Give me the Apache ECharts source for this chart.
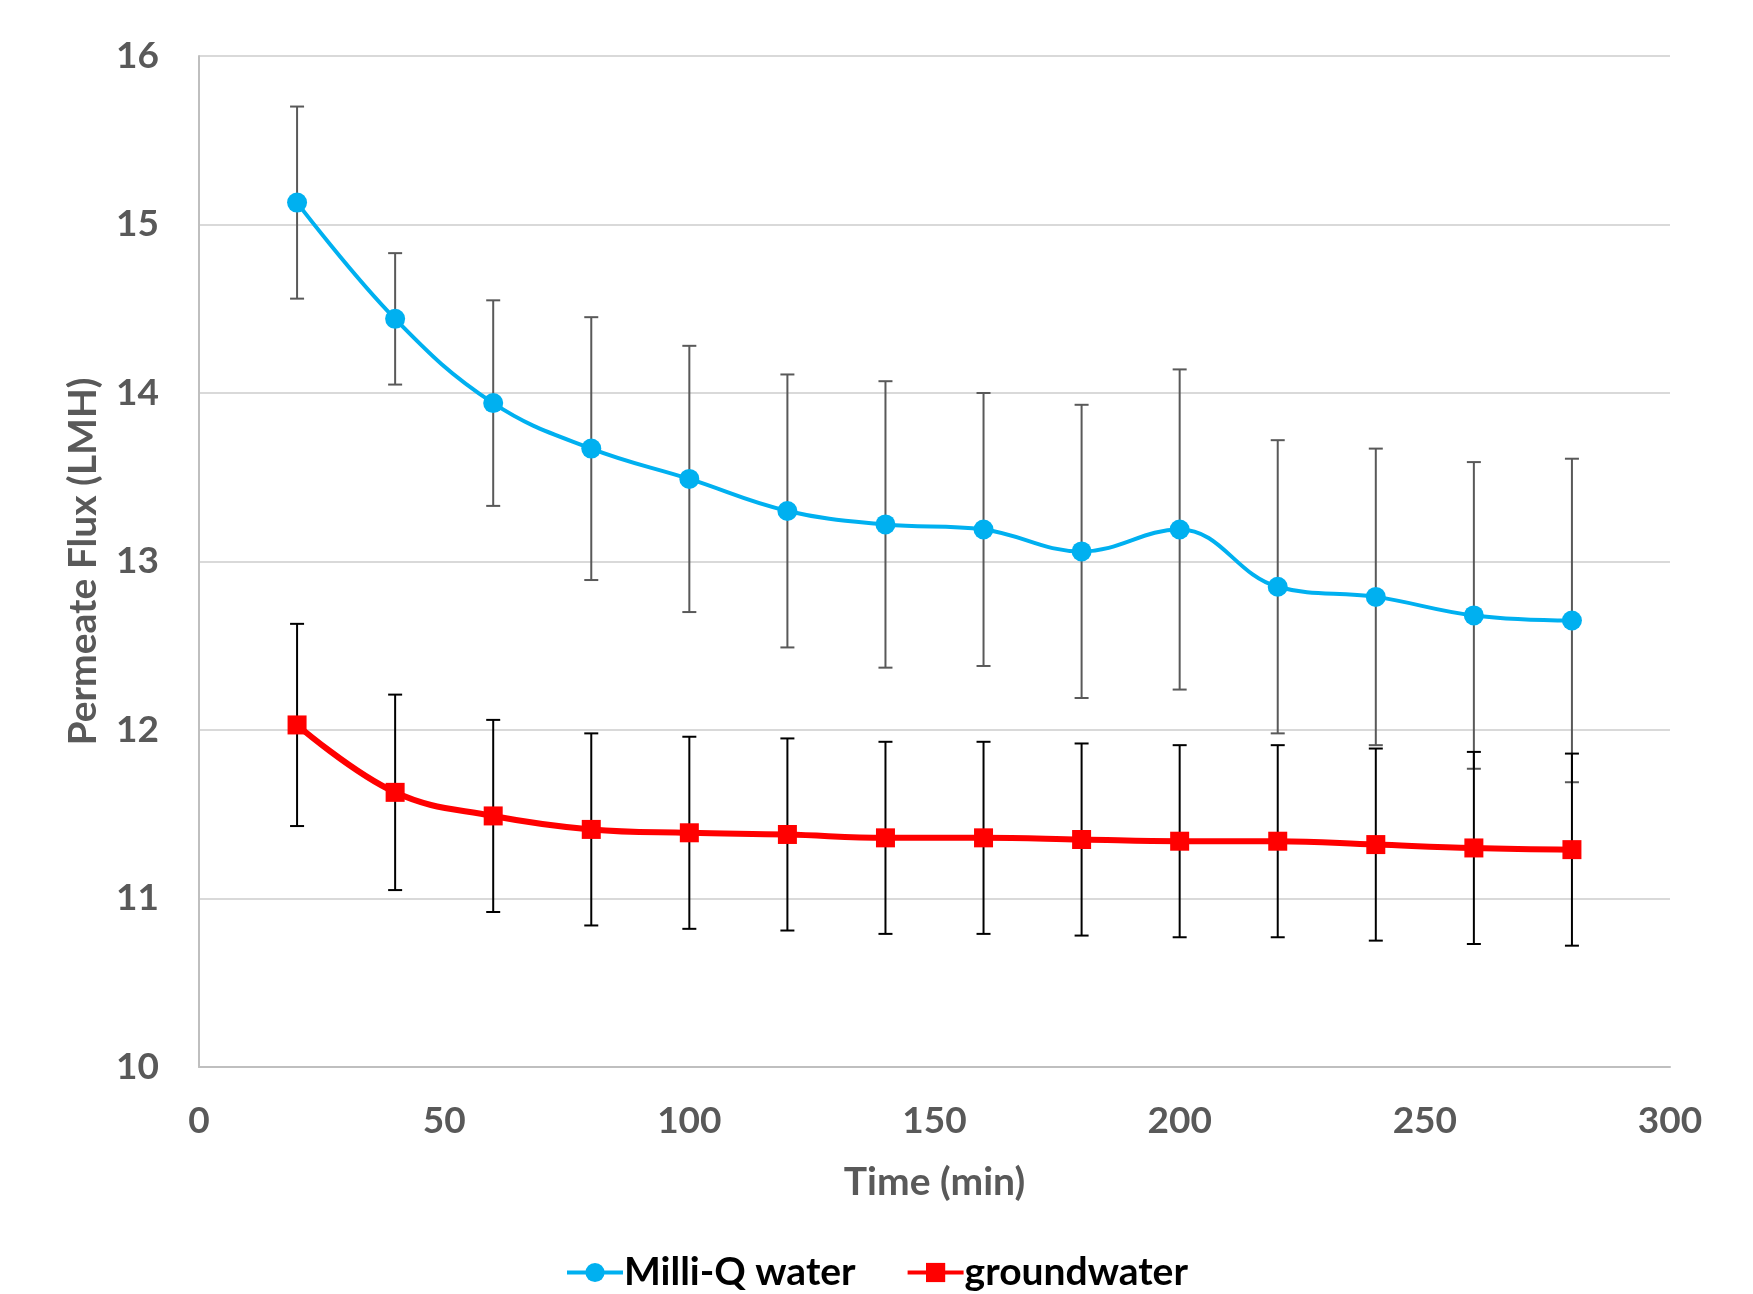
<!DOCTYPE html>
<html>
<head>
<meta charset="utf-8">
<script src="https://cdn.jsdelivr.net/npm/echarts@6/dist/echarts.min.js"></script>
<style>
  html, body { margin: 0; padding: 0; background: #fff; }
  #chart { width: 1753px; height: 1294px; }
</style>
</head>
<body>
<div id="chart"></div>
<script>
// ---- Data ----
var times = [20, 40, 60, 80, 100, 120, 140, 160, 180, 200, 220, 240, 260, 280];
var milliQ = [15.13, 14.44, 13.94, 13.67, 13.49, 13.30, 13.22, 13.19, 13.06, 13.19, 12.85, 12.79, 12.68, 12.65];
var milliQErr = [0.57, 0.39, 0.61, 0.78, 0.79, 0.81, 0.85, 0.81, 0.87, 0.95, 0.87, 0.88, 0.91, 0.96];
var ground = [12.03, 11.63, 11.49, 11.41, 11.39, 11.38, 11.36, 11.36, 11.35, 11.34, 11.34, 11.32, 11.30, 11.29];
var groundErr = [0.60, 0.58, 0.57, 0.57, 0.57, 0.57, 0.57, 0.57, 0.57, 0.57, 0.57, 0.57, 0.57, 0.57];
var xTicks = [0, 50, 100, 150, 200, 250, 300];
var yTicks = [10, 11, 12, 13, 14, 15, 16];
var seriesNames = ['Milli-Q water', 'groundwater'];
var xTitle = 'Time (min)';
var yTitle = 'Permeate Flux (LMH)';

var BLUE = '#00B0F0', RED = '#FF0000';
var FONT = 'Lato';

function pairs(xs, ys) { return xs.map(function (x, i) { return [x, ys[i]]; }); }
function errData(xs, ys, es) { return xs.map(function (x, i) { return [x, ys[i] - es[i], ys[i] + es[i]]; }); }

function errRender(color) {
  return function (params, api) {
    var x = api.value(0);
    var lo = api.coord([x, api.value(1)]);
    var hi = api.coord([x, api.value(2)]);
    var w = 7;
    var style = { stroke: color, lineWidth: 2, fill: null };
    return {
      type: 'group',
      children: [
        { type: 'line', shape: { x1: lo[0], y1: lo[1], x2: hi[0], y2: hi[1] }, style: style },
        { type: 'line', shape: { x1: lo[0] - w, y1: lo[1], x2: lo[0] + w, y2: lo[1] }, style: style },
        { type: 'line', shape: { x1: hi[0] - w, y1: hi[1], x2: hi[0] + w, y2: hi[1] }, style: style }
      ]
    };
  };
}

var chart = echarts.init(document.getElementById('chart'), null, { renderer: 'canvas' });
chart.setOption({
  animation: false,
  backgroundColor: '#fff',
  grid: { left: 199, right: 83, top: 56, bottom: 227, containLabel: false },
  legend: {
    data: seriesNames,
    bottom: -3,
    left: 'center',
    itemWidth: 56,
    itemHeight: 24,
    itemGap: 50,
    lineStyle: { width: 4 },
    textStyle: { fontFamily: FONT, fontWeight: 'bold', fontSize: 39, color: '#000', padding: [0, 0, 0, -4] }
  },
  xAxis: {
    type: 'value',
    min: xTicks[0], max: xTicks[xTicks.length - 1], interval: 50,
    name: xTitle, nameLocation: 'middle', nameGap: 96,
    nameTextStyle: { fontFamily: FONT, fontWeight: 'bold', fontSize: 39, color: '#595959' },
    axisLine: { show: true, lineStyle: { color: '#BFBFBF', width: 2 } },
    axisTick: { show: false },
    splitLine: { show: false },
    axisLabel: { margin: 36, fontFamily: FONT, fontWeight: 'bold', fontSize: 37, color: '#595959' }
  },
  yAxis: {
    type: 'value',
    min: yTicks[0], max: yTicks[yTicks.length - 1], interval: 1,
    name: yTitle, nameLocation: 'middle', nameGap: 96,
    nameTextStyle: { fontFamily: FONT, fontWeight: 'bold', fontSize: 39, color: '#595959' },
    axisLine: { show: true, lineStyle: { color: '#BFBFBF', width: 2 } },
    axisTick: { show: false },
    splitLine: { show: true, lineStyle: { color: '#D9D9D9', width: 2 } },
    axisLabel: { margin: 40, fontFamily: FONT, fontWeight: 'bold', fontSize: 37, color: '#595959' }
  },
  series: [
    {
      type: 'custom', name: 'mqErr', silent: true, z: 1,
      renderItem: errRender('#595959'),
      encode: { x: 0, y: [1, 2] },
      data: errData(times, milliQ, milliQErr)
    },
    {
      type: 'custom', name: 'gwErr', silent: true, z: 1,
      renderItem: errRender('#000000'),
      encode: { x: 0, y: [1, 2] },
      data: errData(times, ground, groundErr)
    },
    {
      type: 'line', name: seriesNames[0], z: 3,
      data: pairs(times, milliQ),
      smooth: 0.4,
      symbol: 'circle', symbolSize: 20,
      lineStyle: { color: BLUE, width: 4 },
      itemStyle: { color: BLUE }
    },
    {
      type: 'line', name: seriesNames[1], z: 3,
      data: pairs(times, ground),
      smooth: 0.4,
      symbol: 'rect', symbolSize: 19,
      lineStyle: { color: RED, width: 6 },
      itemStyle: { color: RED }
    }
  ]
});
</script>
</body>
</html>
